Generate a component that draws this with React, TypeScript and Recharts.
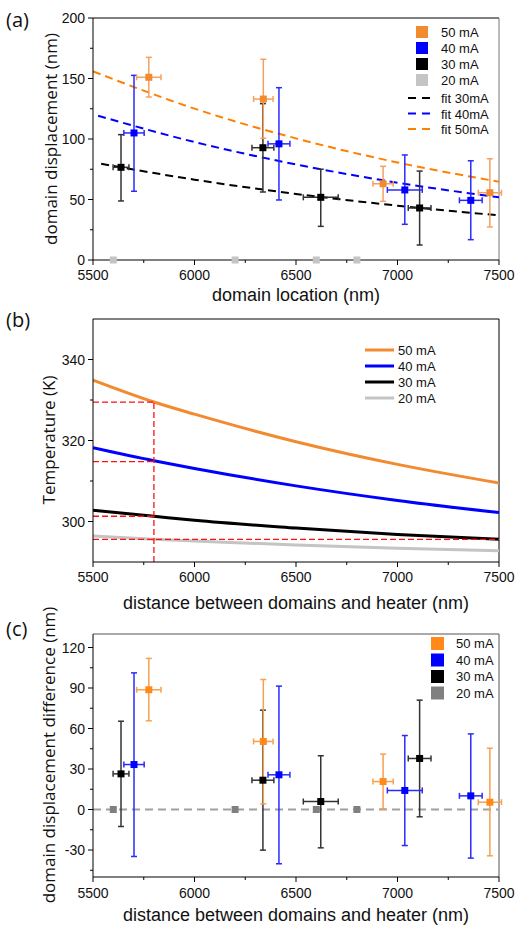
import {
  ComposedChart,
  Line,
  Scatter,
  ErrorBar,
  XAxis,
  YAxis,
  ReferenceLine,
} from 'recharts'

// x positions of the domains (nm) and their x error
const X50 = [5775, 6339, 6929, 7455]
const XERR50 = [60, 48, 50, 57]
const X40 = [5702, 6416, 7036, 7361]
const XERR40 = [50, 54, 86, 56]
const X30 = [5638, 6337, 6622, 7109]
const XERR30 = [39, 54, 86, 56]
const X20 = [5600, 6200, 6600, 6800]

// (a) domain displacement (nm), with lower / upper error ends
const D50 = [151, 133, 63, 55.6]
const D50_LO = [134.7, 100.6, 48.5, 27.3]
const D50_HI = [167.5, 165.9, 77.4, 83.7]
const D40 = [105, 96, 57.9, 49.3]
const D40_LO = [56.8, 49.6, 29.5, 16.8]
const D40_HI = [152.6, 142.4, 86.8, 82]
const D30 = [76.6, 92.8, 51.8, 43]
const D30_LO = [48.8, 56.2, 27.8, 12.4]
const D30_HI = [103.6, 129.2, 75, 73.5]
const D20 = [0, 0, 0, 0]

// (a) fits
const FIT30_X = [5540, 6000, 6500, 7000, 7500]
const FIT30_Y = [79.5, 66.4, 54.6, 44.9, 36.9]
const FIT40_X = [5525, 6000, 6500, 7000, 7500]
const FIT40_Y = [119.2, 97.5, 79.0, 63.9, 51.8]
const FIT50_X = [5500, 6000, 6500, 7000, 7500]
const FIT50_Y = [155.9, 125.1, 100.5, 80.6, 64.7]

// (b) temperature (K)
const TEMP_X = [5500, 5800, 6000, 6500, 7000, 7500]
const T50 = [334.9, 329.5, 326.5, 319.7, 314.1, 309.5]
const T40 = [318.2, 315.0, 313.1, 308.8, 305.2, 302.2]
const T30 = [302.8, 301.3, 300.3, 298.4, 296.8, 295.6]
const T20 = [296.4, 295.6, 295.2, 294.2, 293.4, 292.8]
const MARK_X = 5800
const MARK_T = [329.5, 314.8, 301.3, 295.6]

// (c) displacement difference (nm)
const DIFF50 = [88.7, 50.4, 20.7, 5.4]
const DIFF50_LO = [65.7, 4.2, 0.5, -34.3]
const DIFF50_HI = [111.9, 96.3, 41, 45.4]
const DIFF40 = [33.3, 25.7, 14.1, 10.1]
const DIFF40_LO = [-34.8, -40.2, -26.7, -36]
const DIFF40_HI = [101.2, 91.4, 54.8, 56]
const DIFF30 = [26.4, 21.7, 5.9, 37.8]
const DIFF30_LO = [-12.6, -30.1, -28.4, -5.4]
const DIFF30_HI = [65.4, 73.6, 39.8, 81]

const X_TICKS = [5500, 5750, 6000, 6250, 6500, 6750, 7000, 7250, 7500]
const X_MAJOR = [5500, 6000, 6500, 7000, 7500]
const A_TICKS = [0, 25, 50, 75, 100, 125, 150, 175, 200]
const A_MAJOR = [0, 50, 100, 150, 200]
const B_TICKS = [300, 310, 320, 330, 340]
const B_MAJOR = [300, 320, 340]
const C_TICKS = [-45, -30, -15, 0, 15, 30, 45, 60, 75, 90, 105, 120]
const C_MAJOR = [-30, 0, 30, 60, 90, 120]

const ORANGE = '#f28a30'
const BLUE = '#0000ff'
const BLACK = '#000000'
const LIGHT = '#c4c4c4'
const GREY = '#808080'
const RED = '#ff1010'

const TICK_FONT = '"Liberation Sans", Arial, sans-serif'
const TITLE_FONT = '"Open Sans", sans-serif'

const pts = (xs: number[], ys: number[], xe?: number[], lo?: number[], hi?: number[]) =>
  xs.map((x, i) => ({
    x,
    y: ys[i],
    ex: xe ? xe[i] : 0,
    ey: lo && hi ? [ys[i] - lo[i], hi[i] - ys[i]] : 0,
  }))

const line = (xs: number[], ys: number[]) => xs.map((x, i) => ({ x, y: ys[i] }))

const square = (color: string, s = 7) => (p: any) =>
  <rect x={p.cx - s / 2} y={p.cy - s / 2} width={s} height={s} fill={color} />

const makeXTick = (majors: number[], dy: number) => (p: any) => {
  const major = majors.includes(p.payload.value)
  return (
    <g>
      <line x1={p.x} x2={p.x} y1={p.y} y2={p.y + (major ? 5 : 3)} stroke="#000" />
      {major && (
        <text x={p.x} y={p.y + dy} textAnchor="middle" fontSize={14} fontFamily={TICK_FONT} fill="#111">
          {p.payload.value}
        </text>
      )}
    </g>
  )
}

const makeYTick = (majors: number[]) => (p: any) => {
  const major = majors.includes(p.payload.value)
  return (
    <g>
      <line x1={p.x} x2={p.x - (major ? 5 : 3)} y1={p.y} y2={p.y} stroke="#000" />
      {major && (
        <text x={p.x - 8} y={p.y + 5} textAnchor="end" fontSize={14} fontFamily={TICK_FONT} fill="#111">
          {p.payload.value}
        </text>
      )}
    </g>
  )
}

const xAxisProps = (height: number, dy: number) => ({
  type: 'number' as const,
  dataKey: 'x',
  domain: [5500, 7500],
  allowDataOverflow: true,
  ticks: X_TICKS,
  interval: 0 as const,
  tickSize: 0,
  tickMargin: 0,
  tickLine: false,
  height,
  stroke: '#000',
  tick: makeXTick(X_MAJOR, dy),
})

const yAxisProps = (domain: number[], ticks: number[], majors: number[]) => ({
  type: 'number' as const,
  domain,
  allowDataOverflow: true,
  ticks,
  interval: 0 as const,
  tickSize: 0,
  tickMargin: 0,
  tickLine: false,
  width: 93,
  stroke: '#000',
  tick: makeYTick(majors),
})

function PanelA() {
  return (
    <ComposedChart width={516} height={310} margin={{ top: 18, right: 17, bottom: 0, left: 0 }}>
      <XAxis {...xAxisProps(50, 20)} />
      <YAxis {...yAxisProps([0, 200], A_TICKS, A_MAJOR)} />
      {/* unclipped axes for the 20 mA points sitting on the x axis */}
      <XAxis xAxisId="g" hide type="number" dataKey="x" domain={[5500, 7500]} />
      <YAxis yAxisId="g" hide type="number" domain={[0, 200]} />
      <ReferenceLine y={200} stroke="#000" />
      <ReferenceLine x={7500} stroke="#777" />
      <Line data={line(FIT30_X, FIT30_Y)} dataKey="y" type="monotone" dot={false} stroke={BLACK} strokeWidth={2} strokeDasharray="8 5" isAnimationActive={false} />
      <Line data={line(FIT40_X, FIT40_Y)} dataKey="y" type="monotone" dot={false} stroke={BLUE} strokeWidth={2} strokeDasharray="8 5" isAnimationActive={false} />
      <Line data={line(FIT50_X, FIT50_Y)} dataKey="y" type="monotone" dot={false} stroke="#ff8000" strokeWidth={2} strokeDasharray="8 5" isAnimationActive={false} />
      <Scatter xAxisId="g" yAxisId="g" data={pts(X20, D20)} dataKey="y" shape={square(LIGHT)} isAnimationActive={false} />
      <Scatter data={pts(X30, D30, XERR30, D30_LO, D30_HI)} dataKey="y" shape={square(BLACK)} isAnimationActive={false}>
        <ErrorBar dataKey="ey" direction="y" stroke="#333" width={3} />
        <ErrorBar dataKey="ex" direction="x" stroke="#333" width={3} />
      </Scatter>
      <Scatter data={pts(X40, D40, XERR40, D40_LO, D40_HI)} dataKey="y" shape={square(BLUE)} isAnimationActive={false}>
        <ErrorBar dataKey="ey" direction="y" stroke="#2a2aff" width={3} />
        <ErrorBar dataKey="ex" direction="x" stroke="#2a2aff" width={3} />
      </Scatter>
      <Scatter data={pts(X50, D50, XERR50, D50_LO, D50_HI)} dataKey="y" shape={square(ORANGE)} isAnimationActive={false}>
        <ErrorBar dataKey="ey" direction="y" stroke="#f5a060" width={3} />
        <ErrorBar dataKey="ex" direction="x" stroke="#f5a060" width={3} />
      </Scatter>
    </ComposedChart>
  )
}

function PanelB() {
  return (
    <ComposedChart width={516} height={310} margin={{ top: 9, right: 17, bottom: 0, left: 0 }}>
      <XAxis {...xAxisProps(58, 20)} />
      <YAxis {...yAxisProps([290, 350], B_TICKS, B_MAJOR)} />
      <ReferenceLine y={350} stroke="#000" />
      <ReferenceLine x={7500} stroke="#000" />
      <Line data={line(TEMP_X, T20)} dataKey="y" type="monotone" dot={false} stroke={LIGHT} strokeWidth={3} isAnimationActive={false} />
      <Line data={line(TEMP_X, T30)} dataKey="y" type="monotone" dot={false} stroke={BLACK} strokeWidth={3} isAnimationActive={false} />
      <Line data={line(TEMP_X, T40)} dataKey="y" type="monotone" dot={false} stroke={BLUE} strokeWidth={3} isAnimationActive={false} />
      <Line data={line(TEMP_X, T50)} dataKey="y" type="monotone" dot={false} stroke={ORANGE} strokeWidth={3} isAnimationActive={false} />
      {MARK_T.map((t, i) => (
        <ReferenceLine
          key={i}
          segment={[{ x: 5500, y: t }, { x: i === MARK_T.length - 1 ? 7500 : MARK_X, y: t }]}
          stroke={RED}
          strokeWidth={1.3}
          strokeDasharray="6 3"
        />
      ))}
      <ReferenceLine segment={[{ x: MARK_X, y: 290 }, { x: MARK_X, y: MARK_T[0] }]} stroke={RED} strokeWidth={1.3} strokeDasharray="6 3" />
    </ComposedChart>
  )
}

function PanelC() {
  return (
    <ComposedChart width={516} height={311} margin={{ top: 14, right: 17, bottom: 0, left: 0 }}>
      <XAxis {...xAxisProps(54, 21)} />
      <YAxis {...yAxisProps([-50, 130], C_TICKS, C_MAJOR)} />
      <ReferenceLine y={130} stroke="#555" />
      <ReferenceLine x={7500} stroke="#555" />
      <ReferenceLine y={0} stroke="#a0a0a0" strokeWidth={2} strokeDasharray="8 5" />
      <Scatter data={pts(X20, D20)} dataKey="y" shape={square(GREY)} isAnimationActive={false} />
      <Scatter data={pts(X30, DIFF30, XERR30, DIFF30_LO, DIFF30_HI)} dataKey="y" shape={square(BLACK)} isAnimationActive={false}>
        <ErrorBar dataKey="ey" direction="y" stroke="#333" width={3} />
        <ErrorBar dataKey="ex" direction="x" stroke="#333" width={3} />
      </Scatter>
      <Scatter data={pts(X40, DIFF40, XERR40, DIFF40_LO, DIFF40_HI)} dataKey="y" shape={square(BLUE)} isAnimationActive={false}>
        <ErrorBar dataKey="ey" direction="y" stroke="#2a2aff" width={3} />
        <ErrorBar dataKey="ex" direction="x" stroke="#2a2aff" width={3} />
      </Scatter>
      <Scatter data={pts(X50, DIFF50, XERR50, DIFF50_LO, DIFF50_HI)} dataKey="y" shape={square('#ff8a1a')} isAnimationActive={false}>
        <ErrorBar dataKey="ey" direction="y" stroke="#f7a050" width={3} />
        <ErrorBar dataKey="ex" direction="x" stroke="#f7a050" width={3} />
      </Scatter>
    </ComposedChart>
  )
}

const legendText = { fontSize: 13, fontFamily: TICK_FONT, fill: '#111' }

function Overlay() {
  const sqA = [
    { label: '50 mA', color: ORANGE },
    { label: '40 mA', color: BLUE },
    { label: '30 mA', color: BLACK },
    { label: '20 mA', color: LIGHT },
  ]
  const fitA = [
    { label: 'fit 30mA', color: BLACK },
    { label: 'fit 40mA', color: BLUE },
    { label: 'fit 50mA', color: '#ff8000' },
  ]
  const lnB = [
    { label: '50 mA', color: ORANGE },
    { label: '40 mA', color: BLUE },
    { label: '30 mA', color: BLACK },
    { label: '20 mA', color: LIGHT },
  ]
  const sqC = [
    { label: '50 mA', color: '#ff8a1a' },
    { label: '40 mA', color: BLUE },
    { label: '30 mA', color: BLACK },
    { label: '20 mA', color: GREY },
  ]
  return (
    <svg width={516} height={931} style={{ position: 'absolute', left: 0, top: 0, pointerEvents: 'none' }}>
      {/* panel letters */}
      <text x={6} y={27} fontSize={20} fontFamily={TITLE_FONT} fill="#111">(a)</text>
      <text x={6} y={327} fontSize={20} fontFamily={TITLE_FONT} fill="#111">(b)</text>
      <text x={6} y={636} fontSize={20} fontFamily={TITLE_FONT} fill="#111">(c)</text>

      {/* axis titles */}
      <text transform="translate(50,139) rotate(-90)" textAnchor="middle" dominantBaseline="central" fontSize={17} fontFamily={TITLE_FONT} fill="#111">domain displacement (nm)</text>
      <text transform="translate(48,440) rotate(-90)" textAnchor="middle" dominantBaseline="central" fontSize={17} fontFamily={TITLE_FONT} fill="#111">Temperature (K)</text>
      <text transform="translate(48,755) rotate(-90)" textAnchor="middle" dominantBaseline="central" fontSize={17} fontFamily={TITLE_FONT} fill="#111">domain displacement difference (nm)</text>
      <text x={296} y={301} textAnchor="middle" fontSize={18} fontFamily={TICK_FONT} fill="#111">domain location (nm)</text>
      <text x={296} y={609} textAnchor="middle" fontSize={18} fontFamily={TICK_FONT} fill="#111">distance between domains and heater (nm)</text>
      <text x={296} y={921} textAnchor="middle" fontSize={18} fontFamily={TICK_FONT} fill="#111">distance between domains and heater (nm)</text>

      {/* legend (a) */}
      {sqA.map((d, i) => (
        <g key={d.label}>
          <rect x={416} y={26 + i * 16} width={12} height={12} fill={d.color} />
          <text x={441} y={37 + i * 16} {...legendText}>{d.label}</text>
        </g>
      ))}
      {fitA.map((d, i) => (
        <g key={d.label}>
          <line x1={408} x2={436} y1={98 + i * 15.5} y2={98 + i * 15.5} stroke={d.color} strokeWidth={2} strokeDasharray="8 6" />
          <text x={441} y={103 + i * 15.5} {...legendText}>{d.label}</text>
        </g>
      ))}

      {/* legend (b) */}
      {lnB.map((d, i) => (
        <g key={d.label}>
          <line x1={365} x2={394} y1={350 + i * 16} y2={350 + i * 16} stroke={d.color} strokeWidth={3} />
          <text x={398} y={355 + i * 16} {...legendText}>{d.label}</text>
        </g>
      ))}

      {/* legend (c) */}
      {sqC.map((d, i) => (
        <g key={d.label}>
          <rect x={431} y={637 + i * 16.5} width={13} height={13} fill={d.color} />
          <text x={456} y={648 + i * 16.5} {...legendText}>{d.label}</text>
        </g>
      ))}
    </svg>
  )
}

export default function App() {
  return (
    <div style={{ position: 'absolute', left: 0, top: 0, width: 516, height: 931, background: '#fff' }}>
      <div style={{ position: 'absolute', left: 0, top: 0 }}>
        <PanelA />
      </div>
      <div style={{ position: 'absolute', left: 0, top: 310 }}>
        <PanelB />
      </div>
      <div style={{ position: 'absolute', left: 0, top: 620 }}>
        <PanelC />
      </div>
      <Overlay />
    </div>
  )
}
